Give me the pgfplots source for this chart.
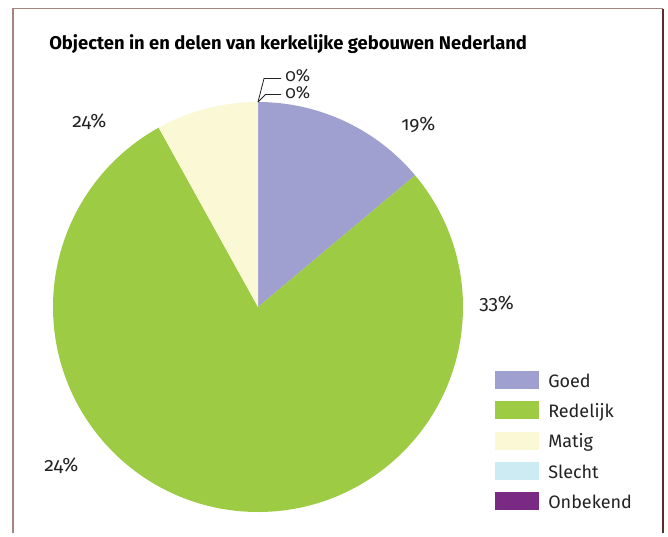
\documentclass[border=0pt]{standalone}
\usepackage{fontspec}
\setmainfont{Fira Sans}[Numbers=OldStyle]
\usepackage{pgfplots}
\pgfplotsset{compat=1.18}
\usepackage{pgfplotstable}

\definecolor{goedc}{HTML}{A0A0D0}
\definecolor{redc}{HTML}{9DCB43}
\definecolor{matigc}{HTML}{FAF8D5}
\definecolor{slechtc}{HTML}{CDEBF2}
\definecolor{onbc}{HTML}{7A2A82}
\definecolor{framelight}{HTML}{A58480}
\definecolor{framedark}{HTML}{5E2D28}
\definecolor{txt}{HTML}{222222}

\pgfplotstableread{
cat val
Goed 13.9
Redelijk 78.05
Matig 8.05
Slecht 0
Onbekend 0
}\piedata

\begin{document}
\begin{tikzpicture}
\pgfplotstablegetelem{0}{val}\of\piedata \let\vA\pgfplotsretval
\pgfplotstablegetelem{1}{val}\of\piedata \let\vB\pgfplotsretval
\pgfplotstablegetelem{2}{val}\of\piedata \let\vC\pgfplotsretval
\pgfmathsetmacro\aA{90}
\pgfmathsetmacro\aB{90-3.6*\vA}
\pgfmathsetmacro\aC{\aB-3.6*\vB}
\pgfmathsetmacro\aD{\aC-3.6*\vC}
\begin{scope}[x=0.75pt,y=-0.75pt]
\useasboundingbox (0,0) rectangle (668,532);
\fill[white] (0,0) rectangle (668,532);
\end{scope}
\begin{axis}[at={(193.5pt,-230.25pt)}, anchor=center, scale only axis,
  width=307.5pt, height=307.5pt, xmin=-1, xmax=1, ymin=-1, ymax=1,
  hide axis, clip=false]
\fill[goedc] (axis cs:0,0) -- (axis cs:{cos(\aA)},{sin(\aA)}) arc[start angle=\aA, end angle=\aB, radius=153.75pt] -- cycle;
\fill[redc] (axis cs:0,0) -- (axis cs:{cos(\aB)},{sin(\aB)}) arc[start angle=\aB, end angle=\aC, radius=153.75pt] -- cycle;
\fill[matigc] (axis cs:0,0) -- (axis cs:{cos(\aC)},{sin(\aC)}) arc[start angle=\aC, end angle=\aD, radius=153.75pt] -- cycle;
\end{axis}
\begin{scope}[x=0.75pt,y=-0.75pt]
% frame
\draw[line width=1.1pt, framelight] (13,533) -- (13,8.5) -- (663,8.5);
\draw[line width=1.1pt, framedark] (663,8.5) -- (663,533);
% title
\node[anchor=base west, inner sep=0pt, text=black, font=\fontsize{13.8}{16}\selectfont\bfseries] at (49,49.5) {Objecten in en delen van kerkelijke gebouwen Nederland};
% labels
\begin{scope}[every node/.style={anchor=base west, inner sep=0pt, text=txt, font=\fontsize{14.5}{17}\selectfont}]
\node at (401,130) {19\%};
\node at (479,309) {33\%};
\node at (44,471) {24\%};
\node at (72,127.5) {24\%};
\end{scope}
\begin{scope}[every node/.style={anchor=base west, inner sep=0pt, text=txt, font=\fontsize{13}{15}\selectfont}]
\node at (285,81.5) {0\%};
\node at (285,98.3) {0\%};
\end{scope}
% leader lines
\draw[txt, line width=0.6pt] (258,102) -- (264,78.5) -- (281,78.5);
\draw[txt, line width=0.6pt] (258,102) -- (265.5,94.5) -- (281,94.5);
% legend
\begin{scope}[every node/.style={anchor=base west, inner sep=0pt, text=txt, font=\fontsize{13.5}{16}\selectfont}]
\fill[goedc] (495,371) rectangle (539,389);
\node at (548,387.3) {Goed};
\fill[redc] (495,401.3) rectangle (539,419.3);
\node at (548,417.6) {Redelijk};
\fill[matigc] (495,431.6) rectangle (539,449.6);
\node at (548,447.9) {Matig};
\fill[slechtc] (495,461.9) rectangle (539,479.9);
\node at (548,478.2) {Slecht};
\fill[onbc] (495,492.2) rectangle (539,510.2);
\node at (548,508.5) {Onbekend};
\end{scope}
\end{scope}
\end{tikzpicture}
\end{document}
